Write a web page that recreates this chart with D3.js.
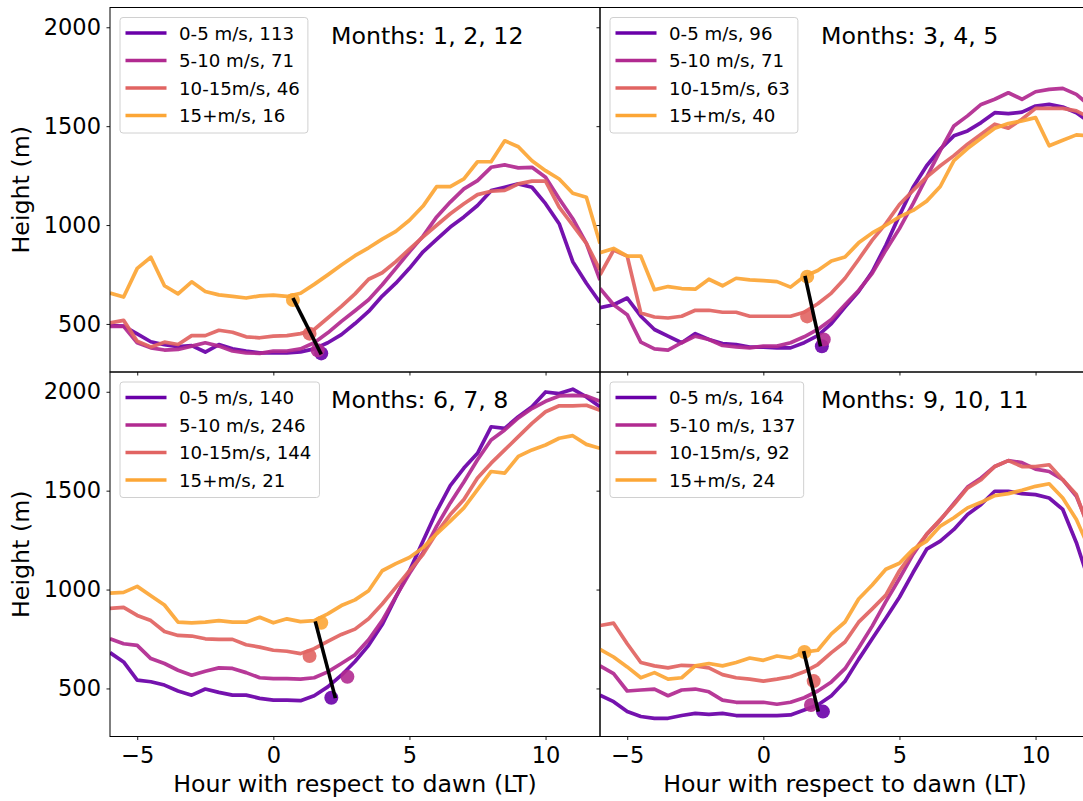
<!DOCTYPE html>
<html><head><meta charset="utf-8">
<script src="https://cdn.jsdelivr.net/npm/d3@7"></script>
<style>body{margin:0;background:#fff;overflow:hidden} svg{display:block;font-family:"DejaVu Sans",sans-serif;}</style>
</head><body><svg id="chart" width="1083" height="801"></svg>
<script>
// ---------- DATA ----------
const hours = [-6,-5.5,-5,-4.5,-4,-3.5,-3,-2.5,-2,-1.5,-1,-0.5,0,0.5,1,1.5,2,2.5,3,3.5,4,4.5,5,5.5,6,6.5,7,7.5,8,8.5,9,9.5,10,10.5,11,11.5,12];
const speedLabels = ["0-5 m/s", "5-10 m/s", "10-15m/s", "15+m/s"];
const seriesColors = ["#6a00a8", "#b12a90", "#e16462", "#fca636"];
const xTickValues = [-5, 0, 5, 10];
const yTickValues = [500, 1000, 1500, 2000];
const panelTitles = ["Months: 1, 2, 12", "Months: 3, 4, 5", "Months: 6, 7, 8", "Months: 9, 10, 11"];

// Months 1, 2, 12
const djfCounts = [113, 71, 46, 16];
const djf_0_5   = [492,489,450,410,395,385,390,358,396,374,363,354,354,354,359,374,405,446,502,563,641,706,781,865,927,990,1041,1099,1174,1191,1208,1191,1108,1007,815,706,609];
const djf_5_10  = [488,488,405,379,368,371,388,405,388,363,354,351,363,363,374,405,455,513,567,622,698,781,865,944,1041,1116,1183,1225,1292,1304,1289,1292,1242,1133,1032,907,722];
const djf_10_15 = [505,518,413,384,408,396,441,441,468,458,435,430,438,441,451,472,530,589,652,726,759,815,878,940,999,1057,1108,1154,1171,1175,1208,1222,1222,1091,999,907,773];
const djf_15p   = [656,636,781,837,693,652,713,664,647,639,631,642,646,639,655,700,748,798,845,885,929,968,1024,1096,1194,1194,1233,1320,1320,1426,1396,1325,1275,1233,1161,1141,907];
const djfMarkerHour   = [1.76, 1.63, 1.33, 0.72];
const djfMarkerHeight = [351, 367, 451, 621];
const djfFitHour   = [0.72, 1.76];
const djfFitHeight = [631, 346];

// Months 3, 4, 5
const mamCounts = [96, 71, 63, 40];
const mam_0_5   = [582,597,631,539,472,438,405,451,421,401,396,383,383,379,379,405,441,502,585,664,764,898,1049,1191,1300,1384,1451,1476,1518,1568,1563,1571,1602,1610,1597,1568,1518];
const mam_5_10  = [680,597,547,408,374,368,405,438,421,391,384,379,388,388,405,435,472,522,597,669,756,873,982,1108,1242,1376,1501,1552,1610,1636,1669,1636,1674,1686,1691,1661,1602];
const mam_10_15 = [748,873,843,555,535,530,539,569,569,559,559,539,539,539,539,559,602,656,731,826,924,1007,1104,1175,1242,1300,1351,1409,1459,1510,1490,1535,1590,1590,1590,1577,1543];
const mam_15p   = [860,882,843,843,673,689,679,676,726,693,731,723,719,714,686,740,770,818,838,910,960,999,1041,1074,1121,1195,1326,1387,1439,1490,1513,1527,1543,1401,1429,1456,1451];
const mamMarkerHour   = [2.15, 2.22, 1.61, 1.61];
const mamMarkerHeight = [387, 421, 538, 739];
const mamFitHour   = [1.53, 2.10];
const mamFitHeight = [743, 387];

// Months 6, 7, 8
const jjaCounts = [140, 246, 144, 21];
const jja_0_5   = [681,634,542,534,517,487,466,497,480,466,466,450,441,441,438,463,508,567,636,718,823,961,1095,1245,1396,1525,1614,1689,1823,1815,1874,1924,1999,1991,2013,1974,1924];
const jja_5_10  = [751,726,718,651,626,592,567,587,604,601,580,554,550,550,547,554,584,626,670,746,843,964,1081,1187,1321,1438,1544,1656,1756,1807,1868,1915,1952,1979,1982,1979,1952];
const jja_10_15 = [905,910,869,843,788,768,765,751,748,748,721,709,693,688,676,701,738,773,800,852,927,1011,1095,1178,1287,1379,1455,1564,1639,1706,1773,1840,1899,1929,1929,1932,1907];
const jja_15p   = [982,986,1016,969,922,835,832,835,843,835,835,860,832,852,838,843,877,919,948,994,1095,1131,1162,1212,1282,1346,1413,1505,1597,1589,1673,1706,1731,1765,1778,1734,1714];
const jjaMarkerHour   = [2.13, 2.72, 1.33, 1.76];
const jjaMarkerHeight = [453, 559, 664, 832];
const jjaFitHour   = [1.54, 2.28];
const jjaFitHeight = [839, 451];

// Months 9, 10, 11
const sonCounts = [164, 137, 92, 24];
const son_0_5   = [466,433,383,358,349,349,363,374,369,374,363,363,363,363,366,391,416,463,536,647,751,855,961,1086,1204,1245,1304,1379,1430,1497,1497,1485,1480,1463,1405,1237,1027];
const son_5_10  = [614,575,487,492,497,463,492,497,483,441,430,430,430,420,430,453,487,533,600,704,815,939,1056,1178,1279,1351,1435,1518,1564,1622,1652,1642,1609,1597,1555,1472,1304];
const son_10_15 = [818,830,726,631,614,604,617,614,604,570,554,547,537,547,559,584,621,681,735,835,902,972,1095,1190,1279,1354,1430,1513,1555,1622,1652,1622,1622,1631,1555,1480,1290];
const son_15p   = [698,659,609,554,580,547,554,614,626,614,631,654,642,664,654,684,693,776,836,952,1023,1103,1133,1203,1245,1321,1363,1413,1441,1475,1485,1502,1522,1535,1463,1354,1198];
const sonMarkerHour   = [2.19, 1.75, 1.85, 1.51];
const sonMarkerHeight = [383, 416, 537, 684];
const sonFitHour   = [1.48, 2.02];
const sonFitHeight = [689, 383];

const panels = [
  {title: panelTitles[0], counts: djfCounts, series: [djf_0_5, djf_5_10, djf_10_15, djf_15p], mh: djfMarkerHour, mv: djfMarkerHeight, fh: djfFitHour, fv: djfFitHeight, col: 0, row: 0},
  {title: panelTitles[1], counts: mamCounts, series: [mam_0_5, mam_5_10, mam_10_15, mam_15p], mh: mamMarkerHour, mv: mamMarkerHeight, fh: mamFitHour, fv: mamFitHeight, col: 1, row: 0},
  {title: panelTitles[2], counts: jjaCounts, series: [jja_0_5, jja_5_10, jja_10_15, jja_15p], mh: jjaMarkerHour, mv: jjaMarkerHeight, fh: jjaFitHour, fv: jjaFitHeight, col: 0, row: 1},
  {title: panelTitles[3], counts: sonCounts, series: [son_0_5, son_5_10, son_10_15, son_15p], mh: sonMarkerHour, mv: sonMarkerHeight, fh: sonFitHour, fv: sonFitHeight, col: 1, row: 1}
];

// ---------- LAYOUT ----------
const colLeft = [110, 600], panelW = 490;
const rowTop = [7.5, 372], panelH = 364.5;
const FS = 22.5, TFS = 23.7, LFS = 18.2;
const svg = d3.select("#chart");
svg.append("rect").attr("width",1083).attr("height",801).attr("fill","#fff");

const x = d3.scaleLinear().domain([-6, 12]).range([0, panelW]);
const y = d3.scaleLinear().domain([257, 2100]).range([panelH, 0]);
const line = d3.line().x((d,i) => x(hours[i])).y(d => y(d));

panels.forEach((p, pi) => {
  const g = svg.append("g").attr("transform", `translate(${colLeft[p.col]},${rowTop[p.row]})`);
  const clipId = "clip" + pi;
  g.append("clipPath").attr("id", clipId).append("rect").attr("width", panelW).attr("height", panelH);
  const plot = g.append("g").attr("clip-path", `url(#${clipId})`);

  p.series.forEach((s, si) => {
    plot.append("path").datum(s).attr("d", line)
      .attr("fill", "none").attr("stroke", seriesColors[si])
      .attr("stroke-width", 3.7).attr("stroke-opacity", 0.93)
      .attr("stroke-linejoin", "round");
  });
  p.mh.forEach((h, si) => {
    plot.append("circle").attr("cx", x(h)).attr("cy", y(p.mv[si])).attr("r", 7)
      .attr("fill", seriesColors[si]).attr("fill-opacity", 0.9);
  });
  plot.append("line")
    .attr("x1", x(p.fh[0])).attr("y1", y(p.fv[0]))
    .attr("x2", x(p.fh[1])).attr("y2", y(p.fv[1]))
    .attr("stroke", "#000").attr("stroke-width", 3.6);

  // axes
  const xa = g.append("g").attr("transform", `translate(0,${panelH})`)
    .call(d3.axisBottom(x).tickValues(xTickValues).tickSizeInner(3.5).tickSizeOuter(0).tickPadding(7));
  const ya = g.append("g")
    .call(d3.axisLeft(y).tickValues(yTickValues).tickFormat(d3.format("d")).tickSizeInner(3.5).tickSizeOuter(0).tickPadding(5.5));
  [xa, ya].forEach(a => {
    a.select(".domain").remove();
    a.selectAll("line").attr("stroke", "#000").attr("stroke-width", 0.9);
    a.selectAll("text").attr("fill", "#000").style("font-size", FS + "px").style("font-family", '"DejaVu Sans", sans-serif');
  });
  if (p.row === 0) xa.selectAll("text").remove();
  if (p.col === 1) ya.selectAll("text").remove();

  // spines
  g.append("rect").attr("width", panelW).attr("height", panelH)
    .attr("fill", "none").attr("stroke", "#000").attr("stroke-width", 1);

  // legend
  const lg = g.append("g").attr("transform", "translate(10,10)");
  const box = lg.append("rect").attr("height", 115.5).attr("rx", 3)
    .attr("fill", "#fff").attr("fill-opacity", 0.8).attr("stroke", "#d0d0d0").attr("stroke-width", 1);
  let maxW = 0;
  speedLabels.forEach((lab, si) => {
    const yy = 15.5 + si * 27.5;
    lg.append("line").attr("x1", 5.5).attr("x2", 46.5).attr("y1", yy).attr("y2", yy)
      .attr("stroke", seriesColors[si]).attr("stroke-width", 3.7);
    const t = lg.append("text").attr("x", 59).attr("y", yy).attr("dy", "0.36em")
      .style("font-size", LFS + "px").attr("fill", "#000")
      .text(`${lab}, ${p.counts[si]}`);
    maxW = Math.max(maxW, t.node().getComputedTextLength());
  });
  box.attr("width", 59 + maxW + 8);

  // title
  g.append("text").attr("x", 221).attr("y", 36).style("font-size", TFS + "px")
    .attr("fill", "#000").text(p.title);

  // axis labels
  if (p.row === 1) {
    g.append("text").attr("x", panelW / 2).attr("y", 420).attr("text-anchor", "middle")
      .style("font-size", TFS + "px").attr("fill", "#000").text("Hour with respect to dawn (LT)");
  }
  if (p.col === 0) {
    g.append("text").attr("transform", `translate(-81.5,${panelH / 2}) rotate(-90)`)
      .attr("text-anchor", "middle").style("font-size", TFS + "px").attr("fill", "#000").text("Height (m)");
  }
});
</script>
</body></html>
